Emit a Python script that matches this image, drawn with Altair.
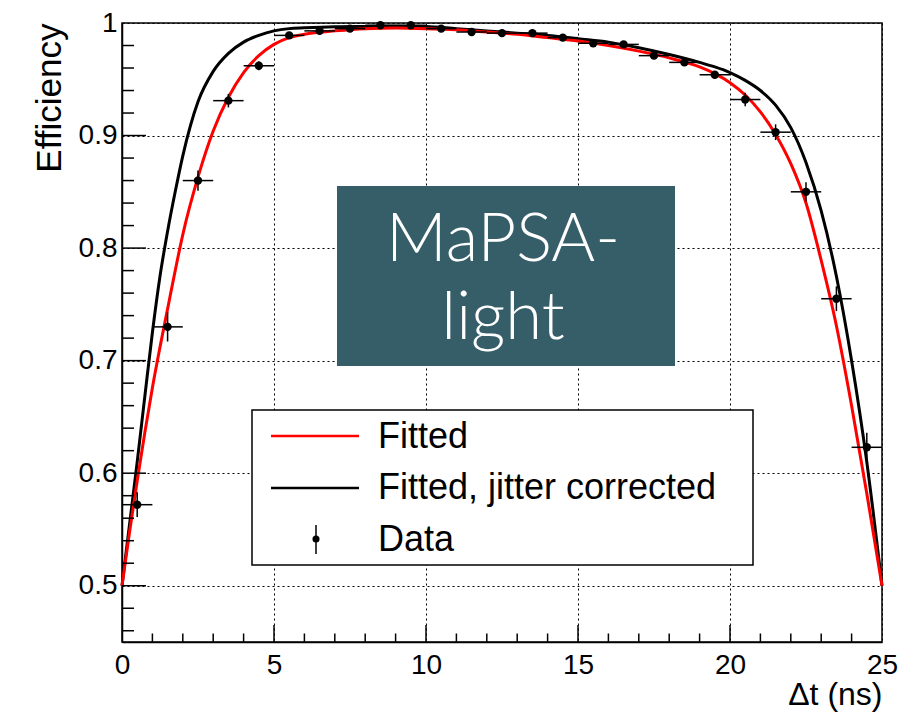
import altair as alt
import pandas as pd

# ---------------- data ----------------
data_x = [0.5, 1.5, 2.5, 3.5, 4.5, 5.5, 6.5, 7.5, 8.5, 9.5, 10.5, 11.5, 12.5,
          13.5, 14.5, 15.5, 16.5, 17.5, 18.5, 19.5, 20.5, 21.5, 22.5, 23.5, 24.5]
data_y = [0.572, 0.730, 0.860, 0.931, 0.962, 0.989, 0.993, 0.995, 0.998, 0.998,
          0.995, 0.992, 0.991, 0.991, 0.987, 0.982, 0.981, 0.971, 0.965, 0.954,
          0.932, 0.903, 0.850, 0.755, 0.623]
data_yerr = [0.011, 0.013, 0.009, 0.006, 0.004, 0.003, 0.002, 0.002, 0.002, 0.002,
             0.002, 0.002, 0.002, 0.002, 0.002, 0.002, 0.002, 0.002, 0.002, 0.003,
             0.006, 0.007, 0.0085, 0.011, 0.013]
data_xerr = [0.5] * 25

curve_x = [0, 0.25, 0.5, 0.75, 1.0, 1.25, 1.5, 1.75, 2.0, 2.5, 3.0, 3.5, 4.0, 4.5,
           5.0, 5.5, 6, 7, 8, 9, 10, 11, 12, 13, 14, 15, 16, 17, 18, 19, 19.5, 20,
           20.5, 21, 21.5, 22, 22.5, 23, 23.5, 24, 24.5, 25]
fitted_y = [0.5, 0.548, 0.593, 0.636, 0.676, 0.712, 0.746, 0.78, 0.812, 0.863,
            0.904, 0.934, 0.956, 0.971, 0.981, 0.987, 0.990, 0.993, 0.995, 0.9955,
            0.995, 0.994, 0.992, 0.990, 0.987, 0.984, 0.980, 0.975, 0.969, 0.961,
            0.955, 0.947, 0.936, 0.921, 0.901, 0.875, 0.840, 0.789, 0.731, 0.660,
            0.582, 0.5]
jitter_y = [0.5, 0.555, 0.61, 0.668, 0.725, 0.775, 0.815, 0.85, 0.882, 0.93,
            0.957, 0.973, 0.983, 0.989, 0.993, 0.995, 0.9957, 0.9967, 0.997, 0.9972,
            0.997, 0.995, 0.993, 0.991, 0.989, 0.986, 0.983, 0.978, 0.972, 0.965,
            0.961, 0.956, 0.949, 0.940, 0.927, 0.907, 0.876, 0.833, 0.775, 0.70,
            0.61, 0.5]

x_major = [0, 5, 10, 15, 20, 25]
x_minor = [1, 2, 3, 4, 6, 7, 8, 9, 11, 12, 13, 14, 16, 17, 18, 19, 21, 22, 23, 24]
y_major = [0.5, 0.6, 0.7, 0.8, 0.9, 1.0]
y_minor = [0.46, 0.48, 0.52, 0.54, 0.56, 0.58, 0.62, 0.64, 0.66, 0.68, 0.72, 0.74,
           0.76, 0.78, 0.82, 0.84, 0.86, 0.88, 0.92, 0.94, 0.96, 0.98]

legend_labels = ["Fitted", "Fitted, jitter corrected", "Data"]
box_lines = ["MaPSA-", "light"]

# ---------------- layout ----------------
W, H = 760, 619
FONT = "Liberation Sans"
xscale = alt.Scale(domain=[0, 25], nice=False, zero=False)
yscale = alt.Scale(domain=[0.45, 1.0], nice=False, zero=False)

pts = pd.DataFrame({"x": data_x, "y": data_y, "xe": data_xerr, "ye": data_yerr})
pts["xlo"] = pts["x"] - pts["xe"]
pts["xhi"] = pts["x"] + pts["xe"]
pts["ylo"] = pts["y"] - pts["ye"]
pts["yhi"] = pts["y"] + pts["ye"]

curves = pd.DataFrame({"x": curve_x, "fit": fitted_y, "jit": jitter_y})
one = pd.DataFrame({"a": [0]})

x_axis = alt.Axis(values=x_major, grid=True, gridDash=[2, 3], gridColor="#000",
                  gridWidth=1, tickSize=0, labelFontSize=28, labelFont=FONT,
                  labelColor="#000", labelPadding=9, labelFlush=False,
                  labelOverlap=False, domainColor="#000", domainWidth=1.5,
                  format="d", title="Δt (ns)", titleFont=FONT, titleFontSize=32,
                  titleFontWeight="normal", titleColor="#000", titleAnchor="end",
                  titleAlign="right", titleX=W, titleY=62,
                  titleBaseline="alphabetic")
y_axis = alt.Axis(values=y_major, grid=True, gridDash=[2, 3], gridColor="#000",
                  gridWidth=1, tickSize=0, labelFontSize=28, labelFont=FONT,
                  labelColor="#000", labelPadding=5, labelFlush=False,
                  labelOverlap=False, domainColor="#000", domainWidth=1.5,
                  labelExpr="datum.value == 1 ? '1' : format(datum.value, '.1f')",
                  title="Efficiency", titleFont=FONT, titleFontSize=35,
                  titleFontWeight="normal", titleColor="#000", titleAnchor="end",
                  titleAngle=270, titleAlign="right", titleX=-62, titleY=0,
                  titleBaseline="alphabetic")


def X(field):
    return alt.X(field, scale=xscale, axis=x_axis)


def Y(field):
    return alt.Y(field, scale=yscale, axis=y_axis)


base_curves = alt.Chart(curves)
black_line = base_curves.mark_line(color="#000", strokeWidth=3,
                                   interpolate="monotone").encode(
    x=X("x:Q"), y=Y("jit:Q"))
red_line = base_curves.mark_line(color="#ff0000", strokeWidth=3,
                                 interpolate="monotone").encode(
    x=X("x:Q"), y=Y("fit:Q"))

base_pts = alt.Chart(pts)
herr = base_pts.mark_rule(color="#000", strokeWidth=1.5).encode(
    x=X("xlo:Q"), x2="xhi:Q", y=Y("y:Q"))
verr = base_pts.mark_rule(color="#000", strokeWidth=1.5).encode(
    x=X("x:Q"), y=Y("ylo:Q"), y2="yhi:Q")
dots = base_pts.mark_circle(color="#000", opacity=1, size=70).encode(
    x=X("x:Q"), y=Y("y:Q"))


# inward ticks
def xticks(vals, length):
    return alt.Chart(pd.DataFrame({"v": vals})).mark_rule(
        color="#000", strokeWidth=1.5).encode(
        x=X("v:Q"), y=alt.value(H), y2=alt.value(H - length))


def yticks(vals, length):
    return alt.Chart(pd.DataFrame({"v": vals})).mark_rule(
        color="#000", strokeWidth=1.5).encode(
        y=Y("v:Q"), x=alt.value(0), x2=alt.value(length))


ticks = [xticks(x_major[1:-1], 17), xticks(x_minor, 8.5),
         yticks(y_major[:-1], 24), yticks(y_minor, 12)]

# teal annotation box
ann = alt.Chart(one)
box = ann.mark_rect(color="#355E69").encode(
    x=alt.value(215), x2=alt.value(553), y=alt.value(163), y2=alt.value(343))
box_t1 = ann.mark_text(font="Lato", fontWeight=300, fontSize=67, color="white",
                       align="center", baseline="alphabetic").encode(
    x=alt.value(381), y=alt.value(238), text=alt.value(box_lines[0]))
box_t2 = ann.mark_text(font="Lato", fontWeight=300, fontSize=67, color="white",
                       align="center", baseline="alphabetic").encode(
    x=alt.value(381), y=alt.value(316), text=alt.value(box_lines[1]))

# legend
leg_box = ann.mark_rect(fill="white", stroke="#000", strokeWidth=1.5).encode(
    x=alt.value(130), x2=alt.value(631), y=alt.value(387), y2=alt.value(542))
leg_red = ann.mark_rule(color="#ff0000", strokeWidth=2.5).encode(
    x=alt.value(149), x2=alt.value(237), y=alt.value(413))
leg_black = ann.mark_rule(color="#000", strokeWidth=2.5).encode(
    x=alt.value(149), x2=alt.value(237), y=alt.value(465))
leg_bar = ann.mark_rule(color="#000", strokeWidth=1.5).encode(
    x=alt.value(194), y=alt.value(502), y2=alt.value(531))
leg_dot = ann.mark_circle(color="#000", opacity=1, size=50).encode(
    x=alt.value(194), y=alt.value(516))
leg_texts = [
    ann.mark_text(font=FONT, fontSize=36, color="#000", align="left",
                  baseline="alphabetic").encode(
        x=alt.value(256), y=alt.value(yy), text=alt.value(t))
    for t, yy in zip(legend_labels, [425, 476, 528])
]

chart = alt.layer(
    black_line, red_line, herr, verr, dots, *ticks,
    box, box_t1, box_t2,
    leg_box, leg_red, leg_black, leg_bar, leg_dot, *leg_texts,
).properties(
    width=W, height=H,
    autosize=alt.AutoSizeParams(type="none"),
    padding={"left": 114, "top": 15, "right": 20, "bottom": 70},
    background="white",
).configure_view(stroke="#000", strokeWidth=1.5)

chart.save("out.html", embed_options={"renderer": "svg", "actions": False})
